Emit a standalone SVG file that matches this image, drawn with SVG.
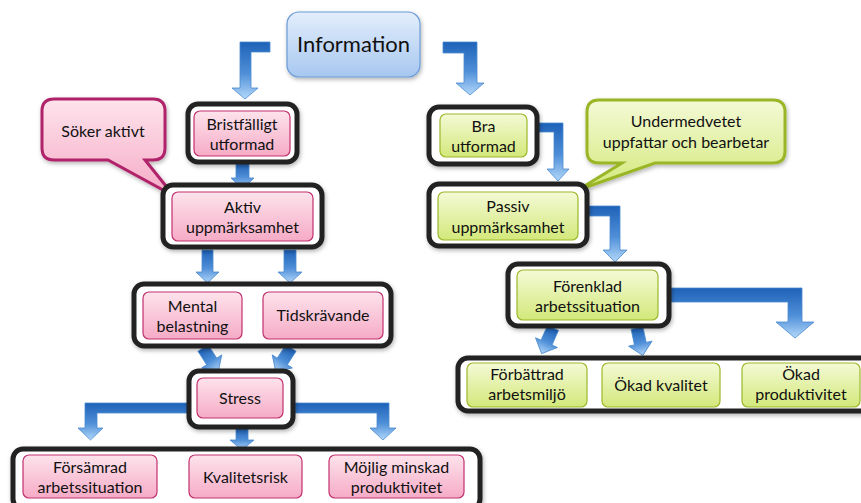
<svg xmlns="http://www.w3.org/2000/svg" width="861" height="503" viewBox="0 0 861 503">
<defs>
<linearGradient id="gBlue" x1="0" y1="0" x2="0" y2="1"><stop offset="0" stop-color="#1e62b8"/><stop offset="0.55" stop-color="#4f8fd8"/><stop offset="1" stop-color="#b3d8fa"/></linearGradient>
<linearGradient id="gInfo" x1="0" y1="0" x2="0" y2="1"><stop offset="0" stop-color="#e3eefc"/><stop offset="1" stop-color="#a7c7f0"/></linearGradient>
<linearGradient id="gPink" x1="0" y1="0" x2="0" y2="1"><stop offset="0" stop-color="#fde3ec"/><stop offset="1" stop-color="#f6abc6"/></linearGradient>
<linearGradient id="gGreen" x1="0" y1="0" x2="0" y2="1"><stop offset="0" stop-color="#f4fad6"/><stop offset="1" stop-color="#d3e87a"/></linearGradient>
<filter id="sh" x="-10%" y="-10%" width="130%" height="140%"><feDropShadow dx="1" dy="2" stdDeviation="2" flood-color="#000" flood-opacity="0.3"/></filter>
</defs>
<style>
.frame{fill:#fff;stroke:#222;stroke-width:5;filter:url(#sh)}
.pink{fill:url(#gPink);stroke:#c2306f;stroke-width:1.2}
.green{fill:url(#gGreen);stroke:#9cb82a;stroke-width:1.2}
.cp{fill:url(#gPink);stroke:#b0226a;stroke-width:3;filter:url(#sh)}
.cg{fill:url(#gGreen);stroke:#9ab526;stroke-width:3;filter:url(#sh)}
.arr{fill:url(#gBlue);stroke:#4a8ad0;stroke-width:0.8}
text{font-family:Lato,"Open Sans","Liberation Sans",sans-serif;font-size:16px;fill:#111;text-anchor:middle}
</style>

<g id="connectors">
<path class="arr" d="M270,42 L240,42 L240,88 L232,88 L245,99 L258,88 L251,88 L251,52 L270,52 Z"/>
<path class="arr" d="M443,42 L477,42 L477,83 L484,83 L470,95 L456,83 L464,83 L464,53 L443,53 Z"/>
<path class="arr" d="M236,163 L249,163 L249,178 L254,178 L242.5,189 L231,178 L236,178 Z"/>
<path class="arr" d="M202,250 L213,250 L213,272 L219,272 L207.5,283 L196,272 L202,272 Z"/>
<path class="arr" d="M284,250 L296,250 L296,272 L302,272 L290,283 L278,272 L284,272 Z"/>
<path class="arr" transform="translate(203,348) rotate(-33)" d="M-6,0 L6,0 L6,16 L12,16 L0,28 L-12,16 L-6,16 Z"/>
<path class="arr" transform="translate(291,348) rotate(33)" d="M-6,0 L6,0 L6,16 L12,16 L0,28 L-12,16 L-6,16 Z"/>
<path class="arr" d="M190,403 L85,403 L85,428 L78,428 L90.5,440 L103,428 L97,428 L97,413 L190,413 Z"/>
<path class="arr" d="M295,403 L389,403 L389,428 L396,428 L383,440 L370,428 L377,428 L377,413 L295,413 Z"/>
<path class="arr" d="M236,428 L248,428 L248,440 L254,440 L242,450 L230,440 L236,440 Z"/>
<path class="arr" d="M538,123 L563,123 L563,169 L569,169 L558,181 L547,169 L554,169 L554,132 L538,132 Z"/>
<path class="arr" d="M588,206 L620,206 L620,250 L627,250 L615,262 L603,250 L610,250 L610,216 L588,216 Z"/>
<path class="arr" d="M670,288 L802,288 L802,322 L814,322 L795,338 L776,322 L788,322 L788,302 L670,302 Z"/>
<path class="arr" transform="translate(553,328) rotate(24)" d="M-6,0 L6,0 L6,16 L12,16 L0,28 L-12,16 L-6,16 Z"/>
<path class="arr" transform="translate(637,328) rotate(-12)" d="M-6,0 L6,0 L6,16 L12,16 L0,28 L-12,16 L-6,16 Z"/>
</g>

<g id="information">
<rect x="287" y="12" width="133" height="65" rx="12" fill="url(#gInfo)" stroke="#6a9bd8" stroke-width="1.2" filter="url(#sh)"/>
<text x="353.5" y="52" style="font-size:22px">Information</text>
</g>

<g id="soker-aktivt">
<path class="cp" d="M54,99 H153 Q165,99 165,111 V148 Q165,160 153,160 H145 L174,196 L108,160 H54 Q42,160 42,148 V111 Q42,99 54,99 Z"/>
<text x="103" y="137">Söker aktivt</text>
</g>

<g id="bristfalligt">
<rect class="frame" x="188" y="104" width="109" height="58" rx="10"/>
<rect class="pink" x="194" y="111" width="96" height="45" rx="6"/>
<text x="242" y="130">Bristfälligt</text>
<text x="242" y="150">utformad</text>
</g>

<g id="aktiv">
<rect class="frame" x="163" y="185" width="159" height="62" rx="10"/>
<rect class="pink" x="172" y="192" width="141" height="49" rx="6"/>
<text x="242.5" y="213">Aktiv</text>
<text x="242.5" y="233">uppmärksamhet</text>
</g>

<g id="mental-tids">
<rect class="frame" x="134" y="284" width="257" height="62" rx="10"/>
<g id="mental">
<rect class="pink" x="143" y="292" width="99" height="47" rx="6"/>
<text x="192.5" y="312">Mental</text>
<text x="192.5" y="332">belastning</text>
</g>
<g id="tidskravande">
<rect class="pink" x="263" y="292" width="120" height="47" rx="6"/>
<text x="323" y="321">Tidskrävande</text>
</g>
</g>

<g id="stress">
<rect class="frame" x="189" y="371" width="104" height="56" rx="10"/>
<rect class="pink" x="197" y="378" width="86" height="40" rx="6"/>
<text x="240" y="404">Stress</text>
</g>

<g id="bottom-left">
<rect class="frame" x="13" y="449" width="467" height="60" rx="10"/>
<g id="forsamrad">
<rect class="pink" x="23" y="455" width="134" height="43" rx="6"/>
<text x="90" y="473">Försämrad</text>
<text x="90" y="493">arbetssituation</text>
</g>
<g id="kvalitetsrisk">
<rect class="pink" x="189" y="455" width="113" height="43" rx="6"/>
<text x="245.5" y="483">Kvalitetsrisk</text>
</g>
<g id="mojlig">
<rect class="pink" x="329" y="455" width="135" height="43" rx="6"/>
<text x="396.5" y="473">Möjlig minskad</text>
<text x="396.5" y="493">produktivitet</text>
</g>
</g>

<g id="undermedvetet">
<path class="cg" d="M599,100 H773 Q785,100 785,112 V151 Q785,163 773,163 H655 L578,190 L622,163 H599 Q587,163 587,151 V112 Q587,100 599,100 Z"/>
<text x="686" y="127">Undermedvetet</text>
<text x="686" y="148">uppfattar och bearbetar</text>
</g>

<g id="bra">
<rect class="frame" x="429" y="107" width="108" height="57" rx="10"/>
<rect class="green" x="440" y="114" width="87" height="43" rx="6"/>
<text x="483.5" y="132">Bra</text>
<text x="483.5" y="152">utformad</text>
</g>

<g id="passiv">
<rect class="frame" x="429" y="184" width="158" height="62" rx="10"/>
<rect class="green" x="438" y="192" width="140" height="48" rx="6"/>
<text x="508" y="212">Passiv</text>
<text x="508" y="233">uppmärksamhet</text>
</g>

<g id="forenklad">
<rect class="frame" x="508" y="264" width="161" height="62" rx="10"/>
<rect class="green" x="517" y="270" width="141" height="50" rx="6"/>
<text x="587.5" y="292">Förenklad</text>
<text x="587.5" y="312">arbetssituation</text>
</g>

<g id="bottom-right">
<rect class="frame" x="458" y="358" width="420" height="53" rx="10"/>
<g id="forbattrad">
<rect class="green" x="467" y="363" width="120" height="44" rx="6"/>
<text x="527" y="380">Förbättrad</text>
<text x="527" y="400">arbetsmiljö</text>
</g>
<g id="okad-kvalitet">
<rect class="green" x="602" y="363" width="118" height="44" rx="6"/>
<text x="661" y="391">Ökad kvalitet</text>
</g>
<g id="okad-produktivitet">
<rect class="green" x="742" y="363" width="118" height="44" rx="6"/>
<text x="801" y="380">Ökad</text>
<text x="801" y="400">produktivitet</text>
</g>
</g>
</svg>
